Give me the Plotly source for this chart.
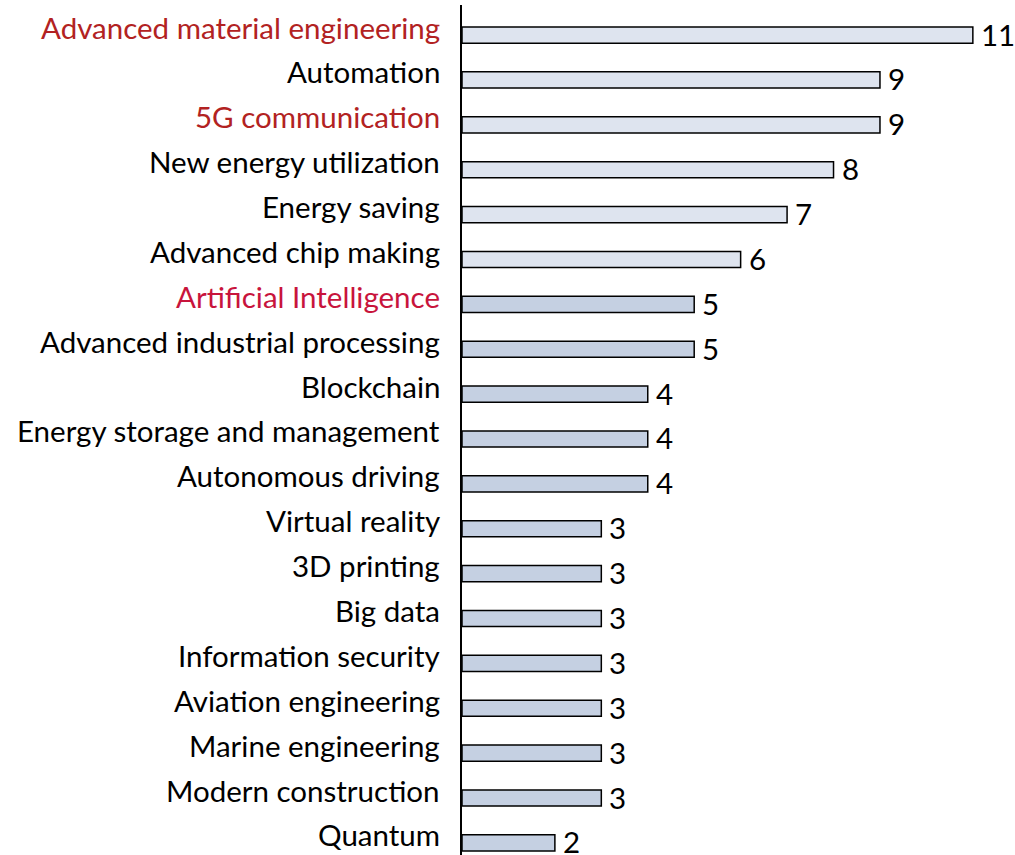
import plotly.graph_objects as go

categories = ["Advanced material engineering", "Automation", "5G communication",
              "New energy utilization", "Energy saving", "Advanced chip making",
              "Artificial Intelligence", "Advanced industrial processing", "Blockchain",
              "Energy storage and management", "Autonomous driving", "Virtual reality",
              "3D printing", "Big data", "Information security", "Aviation engineering",
              "Marine engineering", "Modern construction", "Quantum"]
values = [11, 9, 9, 8, 7, 6, 5, 5, 4, 4, 4, 3, 3, 3, 3, 3, 3, 3, 2]
label_colors = ["#B22222", "#000000", "#B22222", "#000000", "#000000", "#000000",
                "#C8143C", "#000000", "#000000", "#000000", "#000000", "#000000",
                "#000000", "#000000", "#000000", "#000000", "#000000", "#000000", "#000000"]
bar_colors = ["#DEE4EF"] * 6 + ["#C5D0E2"] * 13

FONT = "Lato"
FS = 29.5

fig = go.Figure()
fig.add_trace(go.Bar(
    x=values, y=categories, orientation="h",
    marker=dict(color=bar_colors, line=dict(color="black", width=1.5)),
    width=0.36, hoverinfo="x+y",
))

annotations = []
for cat, v, col in zip(categories, values, label_colors):
    annotations.append(dict(x=0, y=cat, xref="x", yref="y", text=cat, showarrow=False,
                            xanchor="right", yanchor="middle", xshift=-20, yshift=8,
                            font=dict(family=FONT, size=FS, color=col)))
    annotations.append(dict(x=v, y=cat, xref="x", yref="y", text=str(v), showarrow=False,
                            xanchor="left", yanchor="middle", xshift=6, yshift=1,
                            font=dict(family=FONT, size=FS, color="black")))

fig.update_layout(
    width=1015, height=855,
    margin=dict(l=462, r=5, t=5, b=0),
    plot_bgcolor="white", paper_bgcolor="white",
    showlegend=False,
    annotations=annotations,
    xaxis=dict(range=[0, 11.8], visible=False, fixedrange=True),
    yaxis=dict(range=[18.27, -0.67], showticklabels=False, ticks="",
               showline=True, linecolor="black", linewidth=2, showgrid=False,
               zeroline=False),
)

fig.write_html("out.html", config={"displayModeBar": False},
               post_script="document.body.style.margin='0';document.body.style.overflow='hidden';")
